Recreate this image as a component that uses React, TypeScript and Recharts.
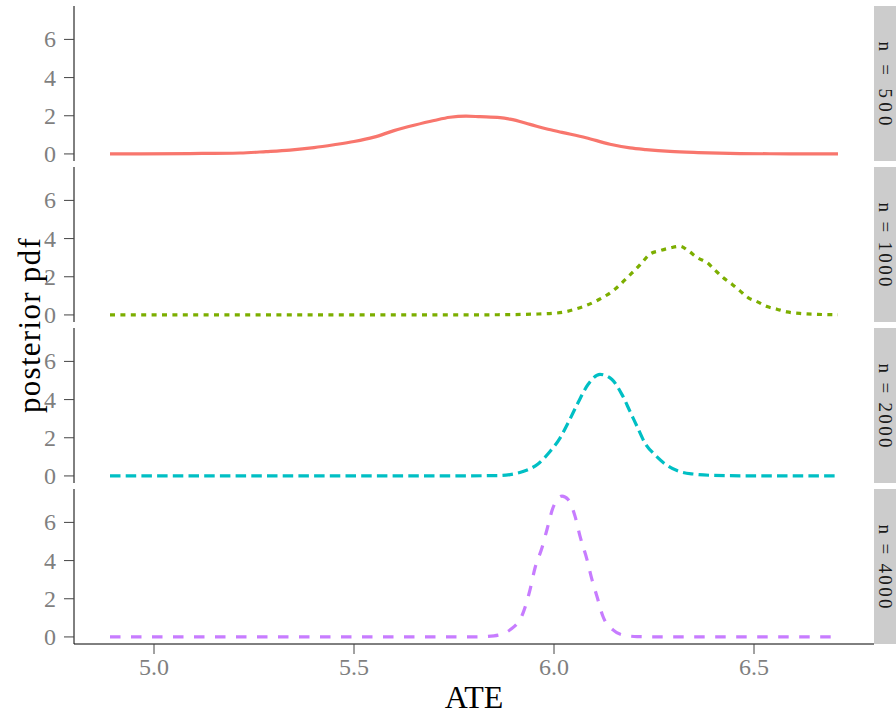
import React from "react";
import { LineChart, Line, XAxis, YAxis } from "recharts";

// posterior densities of the ATE, one facet per sample size
const ate500 = [4.89, 5.09, 5.215, 5.28, 5.34, 5.4, 5.45, 5.5, 5.55, 5.6, 5.65, 5.7, 5.74, 5.78, 5.815, 5.865, 5.89, 5.94, 5.98, 6.02, 6.08, 6.14, 6.19, 6.23, 6.29, 6.36, 6.465, 6.59, 6.71];
const pdf500 = [0, 0.02, 0.05, 0.12, 0.2, 0.33, 0.48, 0.65, 0.88, 1.22, 1.5, 1.75, 1.92, 1.98, 1.95, 1.9, 1.82, 1.55, 1.32, 1.13, 0.85, 0.51, 0.32, 0.23, 0.13, 0.07, 0.02, 0.005, 0];

const ate1000 = [4.89, 5.5, 5.8, 5.9, 5.96, 6.0025, 6.0275, 6.0525, 6.0775, 6.1025, 6.125, 6.1475, 6.165, 6.185, 6.2025, 6.2225, 6.24, 6.265, 6.29, 6.315, 6.335, 6.36, 6.3825, 6.4025, 6.4225, 6.445, 6.465, 6.485, 6.5075, 6.5325, 6.5575, 6.5825, 6.62, 6.66, 6.71];
const pdf1000 = [0, 0, 0.005, 0.02, 0.05, 0.09, 0.16, 0.3, 0.47, 0.7, 0.95, 1.26, 1.58, 2.0, 2.35, 2.8, 3.19, 3.37, 3.51, 3.6, 3.37, 2.98, 2.75, 2.35, 1.96, 1.61, 1.26, 0.91, 0.7, 0.44, 0.3, 0.16, 0.07, 0.03, 0.01];

const ate2000 = [4.89, 5.7, 5.865, 5.89, 5.9225, 5.96, 5.99, 6.015, 6.035, 6.06, 6.085, 6.115, 6.145, 6.17, 6.19, 6.2075, 6.2275, 6.2525, 6.2775, 6.3075, 6.3475, 6.3975, 6.5, 6.71];
const pdf2000 = [0, 0, 0.02, 0.07, 0.23, 0.63, 1.28, 1.98, 2.77, 3.83, 4.79, 5.32, 5.05, 4.26, 3.38, 2.6, 1.72, 1.1, 0.63, 0.28, 0.1, 0.03, 0.005, 0];

const ate4000 = [4.89, 5.6, 5.8, 5.85, 5.87, 5.89, 5.9225, 5.94, 5.9525, 5.97, 5.9825, 5.9975, 6.02, 6.035, 6.0525, 6.065, 6.0825, 6.095, 6.1075, 6.1225, 6.1475, 6.1725, 6.2075, 6.3, 6.71];
const pdf4000 = [0, 0, 0.005, 0.06, 0.15, 0.37, 1.25, 2.47, 3.61, 4.67, 5.63, 6.77, 7.38, 7.21, 6.33, 5.28, 4.05, 3.0, 2.12, 1.07, 0.37, 0.1, 0.02, 0, 0];

const facetLabels = ["n = 500", "n = 1000", "n = 2000", "n = 4000"];
const xTicks = [5.0, 5.5, 6.0, 6.5];
const yTicks = [0, 2, 4, 6];

const FONT = "Liberation Serif, Times New Roman, serif";
const TICK_GREY = "#7F7F7F";

const panels = [
  { label: facetLabels[0], x: ate500, y: pdf500, color: "#F8766D", dash: undefined },
  { label: facetLabels[1], x: ate1000, y: pdf1000, color: "#7CAE00", dash: "5 5.4" },
  { label: facetLabels[2], x: ate2000, y: pdf2000, color: "#00BFC4", dash: "10.5 5.2" },
  { label: facetLabels[3], x: ate4000, y: pdf4000, color: "#C77CFF", dash: "10.5 10.5" },
];

const PANEL_TOP = 6;
const PANEL_H = 155;
const PANEL_STEP = 161;
const PLOT_LEFT = 74;
const PLOT_RIGHT = 874;
const X_AXIS_H = 71;
const PAD_BOTTOM = 14; // room for the "0" label below a facet

// tick labels drawn by hand so the serif face sticks
const YTick = (props: any) => {
  const { x, y, payload } = props;
  return (
    <text x={x} y={y} textAnchor="end" dominantBaseline="central" fontFamily={FONT} fontSize={24} fill={TICK_GREY}>
      {payload.value}
    </text>
  );
};

const XTick = (props: any) => {
  const { x, y, payload } = props;
  return (
    <text x={x} y={y + 19} textAnchor="middle" fontFamily={FONT} fontSize={24} fill={TICK_GREY}>
      {Number(payload.value).toFixed(1)}
    </text>
  );
};

export default function App() {
  return (
    <div
      style={{
        position: "absolute",
        left: 0,
        top: 0,
        width: 896,
        height: 715,
        background: "#fff",
        overflow: "hidden",
        fontFamily: FONT,
      }}
    >
      {panels.map((p, i) => {
        const rows = p.x.map((x, k) => ({ ate: x, pdf: p.y[k] }));
        const last = i === panels.length - 1;
        return (
          <div
            key={p.label}
            style={{ position: "absolute", left: 0, top: PANEL_TOP + i * PANEL_STEP }}
          >
            <LineChart
              width={PLOT_RIGHT}
              height={PANEL_H + (last ? X_AXIS_H : PAD_BOTTOM)}
              data={rows}
              margin={{ top: 0, right: 0, bottom: last ? 0 : PAD_BOTTOM, left: 0 }}
            >
              <XAxis
                dataKey="ate"
                type="number"
                domain={[4.8, 6.8]}
                ticks={xTicks}
                interval={0}
                hide={!last}
                height={X_AXIS_H}
                axisLine={{ stroke: "#000", strokeWidth: 1 }}
                tickLine={{ stroke: "#444" }}
                tickSize={10}
                tickMargin={2}
                tick={<XTick />}
                allowDataOverflow
              />
              <YAxis
                type="number"
                domain={[-0.37, 7.75]}
                ticks={yTicks}
                interval={0}
                width={PLOT_LEFT}
                axisLine={{ stroke: "#000", strokeWidth: 1 }}
                tickLine={{ stroke: "#444" }}
                tickSize={10}
                tickMargin={8}
                tick={<YTick />}
                allowDataOverflow
              />
              <Line
                type="monotone"
                dataKey="pdf"
                stroke={p.color}
                strokeWidth={3.2}
                strokeDasharray={p.dash}
                dot={false}
                activeDot={false}
                isAnimationActive={false}
              />
            </LineChart>
          </div>
        );
      })}

      {/* strips, axis titles */}
      <svg
        width={896}
        height={715}
        style={{ position: "absolute", left: 0, top: 0, pointerEvents: "none" }}
      >
        {panels.map((p, i) => {
          const top = PANEL_TOP + i * PANEL_STEP;
          const cy = top + PANEL_H / 2;
          return (
            <g key={p.label}>
              <rect x={PLOT_RIGHT} y={top} width={896 - PLOT_RIGHT} height={PANEL_H} fill="#CCCCCC" />
              <text
                x={885}
                y={cy}
                textAnchor="middle"
                dominantBaseline="central"
                transform={`rotate(90, 885, ${cy})`}
                fontFamily={FONT}
                fontSize={19}
                textLength={84}
                lengthAdjust="spacing"
                fill="#1A1A1A"
              >
                {p.label}
              </text>
            </g>
          );
        })}
        <text
          x={29}
          y={325}
          textAnchor="middle"
          dominantBaseline="central"
          transform="rotate(-90, 29, 325)"
          fontFamily={FONT}
          fontSize={31}
          letterSpacing={1.3}
          fill="#000"
        >
          posterior pdf
        </text>
        <text x={474} y={708} textAnchor="middle" fontFamily={FONT} fontSize={32} fill="#000">
          ATE
        </text>
      </svg>
    </div>
  );
}
